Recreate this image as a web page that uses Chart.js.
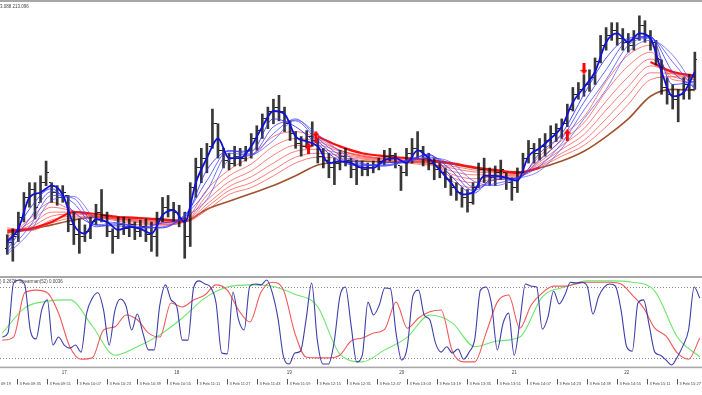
<!DOCTYPE html>
<html><head><meta charset="utf-8">
<script src="https://cdn.jsdelivr.net/npm/chart.js@4/dist/chart.umd.min.js"></script>
<style>
html,body{margin:0;padding:0;background:#fff;width:702px;height:395px;overflow:hidden}
#top{position:absolute;left:0;top:0;width:702px;height:277px}
#bot{position:absolute;left:0;top:277px;width:702px;height:118px}
canvas{display:block}
</style></head><body>
<div id="top"><canvas id="c1" width="702" height="277"></canvas></div>
<div id="bot"><canvas id="c2" width="702" height="118"></canvas></div>
<script>
// ---------- DATA ----------
const barStart = "09:27";          // time of first 3-minute bar
const barStepMin = 3;
const high = [211.62,211.68,211.85,212.05,212.15,212.15,212.22,212.37,212.15,212.12,
212.12,212.02,211.85,211.78,211.72,211.80,211.93,212.08,211.85,211.68,
211.80,211.80,211.78,211.75,211.77,211.78,211.75,211.85,212.00,212.02,
211.95,211.92,211.85,212.15,212.40,212.50,212.55,212.90,212.75,212.50,
212.45,212.52,212.50,212.52,212.65,212.73,212.85,212.92,213.00,213.04,
212.92,212.78,212.67,212.62,212.68,212.77,212.60,212.50,212.45,212.40,
212.48,212.50,212.40,212.38,212.37,212.35,212.37,212.40,212.48,212.50,
212.45,212.32,212.50,212.60,212.67,212.52,212.45,212.40,212.35,212.30,
212.22,212.15,212.10,212.08,212.15,212.35,212.40,212.30,212.32,212.38,
212.25,212.20,212.30,212.45,212.58,212.55,212.60,212.65,212.73,212.75,
212.80,212.95,213.12,213.17,213.25,213.30,213.42,213.65,213.73,213.78,
213.78,213.72,213.67,213.70,213.85,213.80,213.70,213.60,213.40,213.22,
213.15,213.10,213.22,213.25,213.48];
const low = [211.42,211.35,211.55,211.75,211.90,211.78,211.95,212.12,211.95,211.92,
211.95,211.65,211.52,211.43,211.55,211.58,211.72,211.75,211.60,211.43,
211.58,211.62,211.60,211.57,211.60,211.55,211.45,211.40,211.75,211.80,
211.75,211.70,211.38,211.50,212.00,212.15,212.25,212.50,212.40,212.30,
212.28,212.32,212.32,212.37,212.40,212.48,212.60,212.70,212.75,212.78,
212.67,212.58,212.50,212.42,212.50,212.52,212.35,212.30,212.20,212.13,
212.28,212.32,212.20,212.13,212.22,212.22,212.25,212.28,212.33,212.37,
212.30,212.07,212.22,212.35,212.40,212.32,212.28,212.18,212.20,212.10,
212.02,211.97,211.90,211.85,211.93,212.10,212.15,212.12,212.12,212.18,
212.08,211.97,212.05,212.25,212.35,212.35,212.38,212.42,212.50,212.57,
212.60,212.72,212.88,213.00,213.03,213.08,213.15,213.37,213.50,213.60,
213.55,213.50,213.48,213.50,213.60,213.58,213.50,213.35,213.05,212.95,
212.90,212.77,213.00,213.00,213.10];
const open = [211.48,211.54,211.62,211.80,212.00,212.08,211.95,212.15,212.15,212.05,
212.00,212.02,211.72,211.62,211.60,211.65,211.75,211.85,211.82,211.65,
211.60,211.72,211.68,211.72,211.65,211.70,211.62,211.60,211.78,211.90,
211.88,211.85,211.78,211.60,212.10,212.30,212.40,212.52,212.75,212.48,
212.38,212.35,212.42,212.40,212.48,212.60,212.68,212.80,212.88,212.92,
212.88,212.75,212.65,212.55,212.52,212.62,212.58,212.42,212.38,212.30,
212.35,212.42,212.38,212.28,212.30,212.28,212.30,212.32,212.37,212.42,
212.43,212.32,212.25,212.45,212.50,212.48,212.40,212.35,212.28,212.25,
212.18,212.10,212.05,212.00,211.95,212.10,212.28,212.22,212.20,212.25,
212.25,212.15,212.10,212.25,212.40,212.50,212.45,212.52,212.58,212.65,
212.70,212.75,212.90,213.05,213.10,213.15,213.22,213.38,213.55,213.65,
213.70,213.62,213.58,213.55,213.62,213.75,213.65,213.58,213.40,213.12,
213.05,213.00,213.05,213.15,213.10];
const close = [211.54,211.60,211.80,212.00,212.08,211.90,212.15,212.25,212.05,212.00,
212.05,211.72,211.62,211.60,211.65,211.75,211.85,211.82,211.65,211.60,
211.72,211.68,211.72,211.65,211.70,211.62,211.60,211.78,211.90,211.88,
211.85,211.78,211.60,212.10,212.30,212.40,212.45,212.75,212.48,212.38,
212.35,212.42,212.40,212.48,212.60,212.68,212.80,212.88,212.92,212.88,
212.75,212.65,212.55,212.52,212.62,212.58,212.42,212.38,212.30,212.35,
212.42,212.38,212.28,212.30,212.28,212.30,212.32,212.37,212.42,212.43,
212.35,212.25,212.45,212.50,212.48,212.40,212.35,212.28,212.25,212.18,
212.10,212.05,212.00,211.95,212.10,212.28,212.22,212.20,212.25,212.28,
212.15,212.10,212.25,212.40,212.50,212.45,212.52,212.58,212.65,212.70,
212.75,212.90,213.05,213.10,213.15,213.22,213.38,213.55,213.65,213.70,
213.62,213.58,213.55,213.62,213.75,213.65,213.58,213.42,213.12,213.05,
213.00,213.05,213.15,213.10,213.40];

// moving-average ribbons (fast line every 2 bars, the rest every 4 bars)
const fastStep = 2, ribbonStep = 4;
const blueFast = [211.55,211.68,212.00,212.05,212.12,212.03,211.72,211.63,211.78,211.75,
211.67,211.70,211.68,211.63,211.82,211.87,211.75,212.15,212.40,212.60,
212.40,212.40,212.52,212.72,212.88,212.85,212.62,212.57,212.52,212.35,
212.37,212.35,212.30,212.30,212.38,212.40,212.35,212.48,212.40,212.28,
212.15,212.03,212.05,212.22,212.22,212.20,212.17,212.42,212.50,212.60,
212.72,212.97,213.12,213.28,213.58,213.67,213.58,213.67,213.62,213.28,
213.03,213.07,213.28];
const blue2 = [211.50,211.88,212.09,211.85,211.72,211.71,211.69,211.74,211.80,212.28,212.47,212.47,212.80,212.72,212.54,212.37,212.32,212.35,212.37,212.44,212.22,212.04,212.21,212.19,212.45,212.65,213.05,213.42,213.62,213.64,213.15,213.18];
const blue3 = [211.47,211.78,212.06,211.94,211.70,211.73,211.69,211.70,211.82,212.17,212.48,212.44,212.72,212.78,212.57,212.40,212.33,212.33,212.38,212.43,212.28,212.07,212.18,212.20,212.38,212.60,212.97,213.30,213.60,213.63,213.28,213.12];
const blue4 = [211.44,211.70,212.02,211.99,211.72,211.74,211.69,211.69,211.82,212.07,212.45,212.43,212.65,212.80,212.60,212.43,212.34,212.32,212.37,212.41,212.33,212.11,212.14,212.20,212.32,212.55,212.89,213.20,213.55,213.62,213.38,213.10];
const blue5 = [211.42,211.64,211.97,212.01,211.78,211.74,211.70,211.69,211.80,211.98,212.38,212.43,212.58,212.79,212.64,212.47,212.35,212.32,212.36,212.40,212.36,212.17,212.12,212.19,212.27,212.50,212.80,213.10,213.48,213.60,213.45,213.12];
const red1 = [211.57,211.78,211.95,211.86,211.80,211.76,211.72,211.72,211.76,212.08,212.28,212.42,212.62,212.67,212.60,212.48,212.43,212.40,212.40,212.37,212.17,212.10,212.18,212.20,212.42,212.63,212.82,213.18,213.45,213.55,213.20,213.18];
const red2 = [211.60,211.74,211.90,211.86,211.81,211.77,211.74,211.72,211.75,212.02,212.22,212.34,212.52,212.60,212.57,212.48,212.42,212.40,212.39,212.37,212.21,212.15,212.19,212.20,212.39,212.58,212.76,213.08,213.34,213.48,213.23,213.20];
const red3 = [211.63,211.71,211.85,211.85,211.81,211.78,211.75,211.73,211.75,211.97,212.16,212.27,212.43,212.53,212.53,212.47,212.42,212.39,212.38,212.36,212.24,212.19,212.21,212.21,212.36,212.53,212.70,212.98,213.23,213.41,213.26,213.22];
const red4 = [211.65,211.69,211.81,211.83,211.81,211.78,211.76,211.74,211.75,211.93,212.11,212.21,212.35,212.47,212.49,212.45,212.41,212.39,212.37,212.35,212.27,212.23,212.23,212.22,212.34,212.49,212.64,212.89,213.13,213.34,213.27,213.23];
const red5 = [211.67,211.67,211.77,211.81,211.80,211.78,211.77,211.75,211.75,211.90,212.07,212.15,212.28,212.41,212.45,212.43,212.40,212.38,212.36,212.34,212.30,212.26,212.25,212.23,212.32,212.45,212.58,212.80,213.04,213.27,213.26,213.23];
const red6 = [211.69,211.66,211.74,211.79,211.79,211.78,211.77,211.76,211.75,211.87,212.03,212.10,212.22,212.35,212.41,212.40,212.39,212.37,212.35,212.33,212.32,212.28,212.26,212.24,212.31,212.42,212.53,212.72,212.95,213.20,213.23,213.22];
const redBold = [211.66,211.68,211.75,211.85,211.83,211.80,211.79,211.77,211.76,null,null,null,null,null,212.62,212.52,212.45,212.42,212.40,212.38,212.35,212.31,212.28,212.25,212.30,null,null,null,null,213.38,213.28,213.24];
const brownMA = [211.64,211.67,211.72,211.77,211.80,211.80,211.79,211.78,211.76,211.88,211.96,212.04,212.12,212.22,212.33,212.36,212.37,212.36,212.36,212.36,212.34,212.30,212.27,212.26,212.30,212.37,212.47,212.62,212.80,213.03,213.10,213.09];

// signal arrows
const upArrowTimes = ["12:10","12:14","14:30"];
const upArrowPrices = [212.50,212.62,212.64];
const downArrowTimes = ["14:39"];
const downArrowPrices = [213.31];

// oscillator (Spearman) lines
const oscBlue = [-0.32,-0.23,0.90,0.97,0.86,-0.18,-0.36,0.29,0.52,-0.50,
-0.32,-0.50,-0.57,-0.50,-0.66,0.22,0.56,0.68,0.29,-0.50,
0.27,0.54,0.38,-0.16,0.20,-0.23,-0.61,-0.61,0.40,0.86,
0.52,0.38,-0.39,-0.39,0.79,0.95,0.88,0.81,0.45,-0.68,
-0.70,0.70,0.07,-0.16,0.83,0.88,0.86,0.97,0.68,0.11,
-0.77,-0.93,-0.68,-0.64,0.07,0.90,-0.39,-0.93,-0.93,-0.43,
0.59,0.81,-0.05,-0.88,-0.73,0.47,0.18,0.40,0.79,0.77,
-0.23,-0.84,-0.54,0.61,0.74,0.18,0.07,-0.45,-0.66,-0.54,
-0.68,-0.59,-0.82,-0.66,-0.36,0.74,0.81,0.40,-0.61,-0.02,
0.22,-0.73,0.02,0.88,0.83,0.81,-0.14,0.13,0.72,0.43,
0.63,0.92,0.90,0.92,0.83,0.20,0.59,0.81,0.88,0.83,
0.29,-0.54,-0.64,0.45,0.52,-0.05,-0.66,-0.73,-0.84,-0.95,
-0.77,-0.52,-0.16,0.81,0.56];
const oscRedStep = 2;
const oscRed = [-0.39,-0.32,0.68,0.74,0.68,0.22,-0.54,-0.82,-0.79,-0.16,
-0.09,0.18,0.07,-0.23,-0.32,0.45,0.36,0.52,0.63,0.86,
0.74,0.29,0.02,0.70,0.92,0.74,-0.23,-0.77,-0.79,-0.79,
-0.73,-0.41,-0.34,-0.23,-0.14,0.47,-0.12,0.11,0.25,0.29,
-0.64,-0.88,-0.88,-0.23,0.47,0.63,-0.12,0.40,0.68,0.83,
0.83,0.88,0.92,0.92,0.92,0.88,0.63,0.34,-0.12,-0.30,
-0.68,-0.82,-0.34];
const oscGreenStep = 4;
const oscGreen = [-0.23,0.34,0.49,0.52,-0.07,-0.73,-0.54,-0.27,0.11,0.56,
0.81,0.86,0.83,0.65,0.38,-0.70,-0.88,-0.61,-0.32,0.18,
0.00,-0.54,-0.41,-0.32,0.59,0.81,0.95,0.95,0.92,0.72,
-0.32,-0.77];
const oscLevels = [0.8, -0.8];

// texts and axis labels
const headerText = "3.088 213.096";
const oscLegend = ") 0.2676  Spearman(52) 0.0036";
const datePrefix = "3 Feb ";
const timeTicks = ["09:19","09:35","09:51","10:07","10:23","10:39","10:55","11:11","11:27","11:43","11:59","12:15",
"12:31","12:47","13:03","13:19","13:35","13:51","14:07","14:23","14:39","14:55","15:11","15:27"];
const hourTicks = ["10:00","11:00","12:00","13:00","14:00","15:00"];
const hourLabels = ["17","18","19","20","21","22"];

// ---------- HELPERS ----------
function toMin(s){const p=s.split(':');return (+p[0]-9)*60 + (+p[1]);}
const t0 = toMin(barStart);
const xAt = i => t0 + barStepMin*i;
const pts = (arr, step) => arr.map((v,k)=>({x:xAt(k*step), y:v}));
const X_MIN = 25.77, X_MAX = 400.17;
const FONT = '"Liberation Sans", Arial, sans-serif';

function tickImg(left){const c=document.createElement('canvas');c.width=6;c.height=1;const g=c.getContext('2d');g.fillStyle='#222';g.fillRect(left?0:4,0,2,1);return c;}
function arrowImg(up){const c=document.createElement('canvas');c.width=7;c.height=12;const g=c.getContext('2d');g.fillStyle='#ff0000';g.beginPath();
 if(up){g.moveTo(3.5,0);g.lineTo(7,5);g.lineTo(5,5);g.lineTo(5,12);g.lineTo(2,12);g.lineTo(2,5);g.lineTo(0,5);}
 else{g.moveTo(3.5,12);g.lineTo(7,7);g.lineTo(5,7);g.lineTo(5,0);g.lineTo(2,0);g.lineTo(2,7);g.lineTo(0,7);}
 g.closePath();g.fill();return c;}

const lineDs = (data, color, width, order, extra) => Object.assign({type:'line', data, borderColor:color, borderWidth:width,
  pointRadius:0, tension:0.35, cubicInterpolationMode:'monotone', fill:false, spanGaps:false, order}, extra||{});

// ---------- MAIN CHART ----------
const mainPlugin = {id:'mainDeco', afterDraw(chart){
  const g = chart.ctx; g.save();
  g.fillStyle='#a8a8a8'; g.fillRect(0,0,702,2); g.fillRect(0,276,702,1);
  g.fillStyle='#444'; g.font='4.5px '+FONT; g.textBaseline='alphabetic'; g.fillText(headerText,0,7.5);
  g.restore();
}};

new Chart(document.getElementById('c1'), {
  type:'bar',
  data:{datasets:[
    {type:'line', data: upArrowTimes.map((t,k)=>({x:toMin(t), y:upArrowPrices[k]})), showLine:false, pointStyle:arrowImg(true), pointRadius:2, order:0},
    {type:'line', data: downArrowTimes.map((t,k)=>({x:toMin(t), y:downArrowPrices[k]})), showLine:false, pointStyle:arrowImg(false), pointRadius:2, order:0},
    lineDs(pts(blueFast,fastStep), '#1010dd', 1.8, 1, {tension:0.3}),
    lineDs(pts(blue2,ribbonStep), 'rgba(50,50,255,0.85)', 1, 2),
    lineDs(pts(blue3,ribbonStep), 'rgba(60,60,255,0.8)', 1, 2),
    lineDs(pts(blue4,ribbonStep), 'rgba(70,70,255,0.75)', 1, 2),
    lineDs(pts(blue5,ribbonStep), 'rgba(80,80,255,0.7)', 1, 2),
    {type:'bar', data: high.map((h,i)=>({x:xAt(i), y:[low[i],h]})), backgroundColor:'rgba(20,20,20,0.85)', barThickness:2, order:3},
    {type:'line', data: open.map((v,i)=>({x:xAt(i), y:v})), showLine:false, pointStyle:tickImg(true), pointRadius:1, order:3},
    {type:'line', data: close.map((v,i)=>({x:xAt(i), y:v})), showLine:false, pointStyle:tickImg(false), pointRadius:1, order:3},
    lineDs(pts(redBold,ribbonStep), '#ff1010', 2.2, 4),
    lineDs(pts(red1,ribbonStep), 'rgba(255,70,70,0.7)', 1, 5),
    lineDs(pts(red2,ribbonStep), 'rgba(255,70,70,0.7)', 1, 5),
    lineDs(pts(red3,ribbonStep), 'rgba(255,70,70,0.7)', 1, 5),
    lineDs(pts(red4,ribbonStep), 'rgba(255,70,70,0.7)', 1, 5),
    lineDs(pts(red5,ribbonStep), 'rgba(255,70,70,0.7)', 1, 5),
    lineDs(pts(red6,ribbonStep), 'rgba(255,70,70,0.7)', 1, 5),
    lineDs(pts(brownMA,ribbonStep), '#a0522d', 1.6, 6)
  ]},
  options:{
    responsive:false, animation:false, events:[], devicePixelRatio:1,
    layout:{padding:{top:4,bottom:1,left:0,right:0}},
    plugins:{legend:{display:false}, tooltip:{enabled:false}},
    scales:{
      x:{type:'linear', min:X_MIN, max:X_MAX, offset:false, display:false},
      y:{min:211.24, max:213.96, display:false}
    }
  },
  plugins:[mainPlugin]
});

// ---------- OSCILLATOR ----------
const oscPlugin = {id:'oscDeco',
  beforeDatasetsDraw(chart){
    const g=chart.ctx, ys=chart.scales.y; g.save();
    g.strokeStyle='#8a8a8a'; g.lineWidth=1; g.setLineDash([1,2]);
    oscLevels.forEach(l=>{const y=Math.round(ys.getPixelForValue(l))+0.5; g.beginPath(); g.moveTo(0,y); g.lineTo(702,y); g.stroke();});
    g.restore();
  },
  afterDraw(chart){
    const g=chart.ctx, xs=chart.scales.x; g.save();
    g.fillStyle='#a8a8a8'; g.fillRect(0,0,702,1); g.fillRect(0,89.6,702,1.6);
    g.fillStyle='#444'; g.font='4.5px '+FONT; g.textBaseline='alphabetic';
    g.fillText(oscLegend,0,6);
    g.textAlign='center';
    hourTicks.forEach((h,k)=>{g.fillText(hourLabels[k], xs.getPixelForValue(toMin(h)), 97);});
    g.textAlign='left'; g.font='4px '+FONT;
    g.strokeStyle='#555'; g.lineWidth=1;
    timeTicks.forEach(t=>{const x=Math.round(xs.getPixelForValue(toMin(t)))+0.5;
      g.beginPath(); g.moveTo(x,102); g.lineTo(x,107.5); g.stroke();
      g.fillText(datePrefix+t, x+2, 107.5);});
    g.restore();
  }
};

new Chart(document.getElementById('c2'), {
  type:'line',
  data:{datasets:[
    lineDs(pts(oscBlue,1), '#3e3eaa', 1.1, 1, {tension:0.3}),
    lineDs(pts(oscRed,oscRedStep), '#f25a5a', 1.1, 2),
    lineDs(pts(oscGreen,oscGreenStep), '#6ee66e', 1.1, 3)
  ]},
  options:{
    responsive:false, animation:false, events:[], devicePixelRatio:1,
    layout:{padding:{top:1.65,bottom:27.85,left:0,right:0}},
    plugins:{legend:{display:false}, tooltip:{enabled:false}},
    scales:{
      x:{type:'linear', min:X_MIN, max:X_MAX, display:false},
      y:{min:-1, max:1, display:false}
    }
  },
  plugins:[oscPlugin]
});
</script></body></html>
